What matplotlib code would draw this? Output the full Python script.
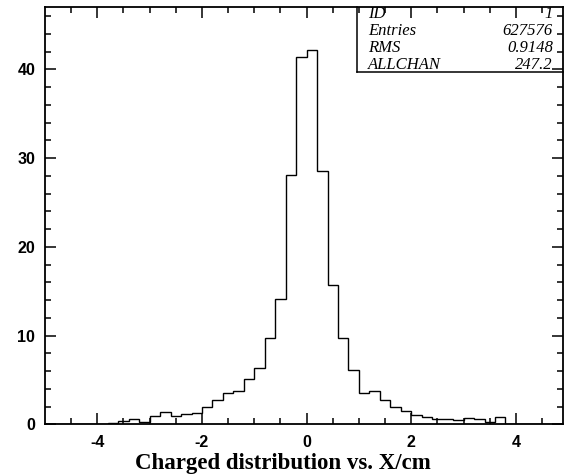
import numpy as np
import matplotlib
matplotlib.use("Agg")
import matplotlib.pyplot as plt
from matplotlib.ticker import MultipleLocator

# bin edges: 50 bins of 0.2 from -5 to 5
edges = np.linspace(-5, 5, 51)

# bin contents
counts = [
    0, 0, 0, 0, 0,
    0.07, 0.15, 0.37, 0.56, 0.30, 0.97, 1.35, 0.94, 1.12, 1.24,
    1.91, 2.73, 3.48, 3.78, 5.06, 6.29, 9.70, 14.1, 28.1, 41.4,
    42.2, 28.6, 15.65, 9.75, 6.07, 3.56, 3.70, 2.70, 1.91, 1.50,
    1.09, 0.82, 0.60, 0.64, 0.52, 0.67, 0.56, 0.26, 0.86, 0,
    0, 0, 0, 0, 0,
]

stat_names = ["ID", "Entries", "RMS", "ALLCHAN"]
stat_values = ["1", "627576", "0.9148", "247.2"]

W, H = 564, 476
fig = plt.figure(figsize=(W / 100, H / 100), dpi=100)
ax = fig.add_axes([45 / W, 1 - 424.3 / H, 518 / W, 417 / H])

ax.stairs(counts, edges, color="black", lw=1.0)

ax.set_xlim(-5, 4.9)
ax.set_ylim(0, 47)
ax.yaxis.set_major_locator(MultipleLocator(10))
ax.yaxis.set_minor_locator(MultipleLocator(2))
ax.set_xticks([-4, -2, 0, 2, 4], labels=["-4", "-2", "0", "2", "4"])
ax.set_xticks([-4.5, -3.5, -3, -2.5, -1.5, -1, -0.5, 0.5, 1, 1.5, 2.5, 3, 3.5, 4.5], minor=True)
ax.tick_params(which="both", direction="in", top=True, right=True, width=1.1)
ax.tick_params(which="major", length=8)
ax.tick_params(axis="x", which="major", pad=8)
ax.tick_params(axis="y", which="major", pad=7)
ax.tick_params(which="minor", length=4)
for lab in ax.get_xticklabels() + ax.get_yticklabels():
    lab.set_fontfamily("Liberation Sans")
    lab.set_fontweight("bold")
    lab.set_fontsize(11.5)
for s in ax.spines.values():
    s.set_linewidth(1.3)

fig.text(283 / W, 1 - 463 / H, "Charged distribution vs. X/cm",
         family="Liberation Serif", weight="bold", fontsize=16.5,
         ha="center", va="center")

# statistics box in the top right corner
bx, by = (357 - 45) / 518, (424.3 - 72.3) / 417
ax.plot([bx, bx], [by, 1], transform=ax.transAxes, color="black", lw=1.1, clip_on=False)
ax.plot([bx, 1], [by, by], transform=ax.transAxes, color="black", lw=1.1, clip_on=False)
rows_y = [14, 31, 48, 65]
for name, val, y in zip(stat_names, stat_values, rows_y):
    fig.text(368 / W, 1 - y / H, name, family="Liberation Serif", style="italic",
             fontsize=12, ha="left", va="center")
    fig.text(553 / W, 1 - y / H, val, family="Liberation Serif", style="italic",
             fontsize=12, ha="right", va="center")

fig.savefig("out.png", dpi=100)
